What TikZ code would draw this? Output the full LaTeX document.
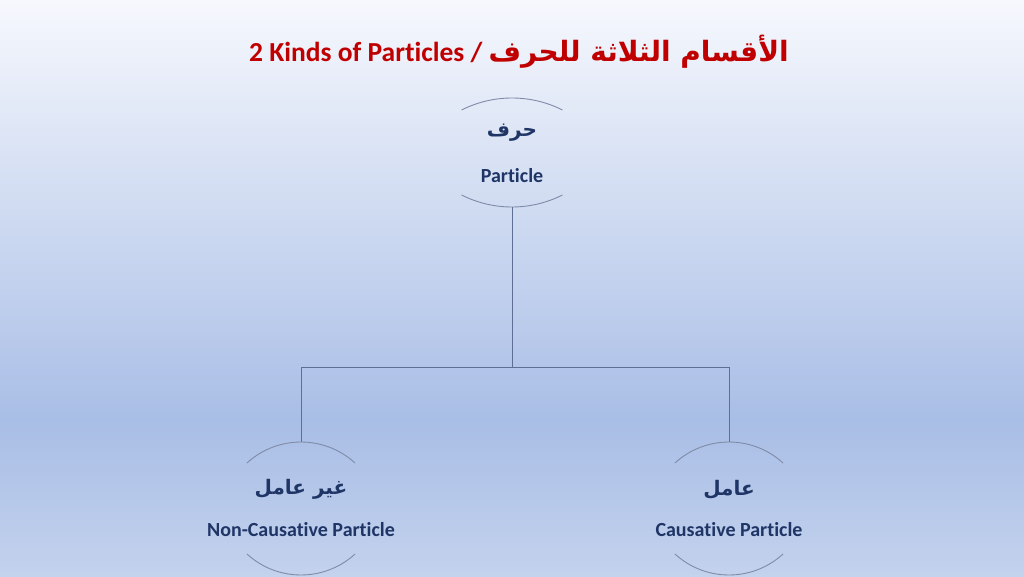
\documentclass[tikz,border=0pt]{standalone}
\usepackage{fontspec}
\setmainfont{Carlito}[Ligatures=NoCommon]
\newfontfamily\arabicfont[Script=Arabic]{DejaVu Sans}
\TeXXeTstate=1
\definecolor{bgtop}{HTML}{F6F8FD}
\definecolor{bgmid}{HTML}{A9BEE6}
\definecolor{bgbot}{HTML}{C3D2ED}
\definecolor{titlered}{HTML}{C00000}
\definecolor{navy}{HTML}{1F3566}
\definecolor{arcgray}{HTML}{7F8BA8}
\definecolor{linegray}{HTML}{5E6E94}
\tikzset{
  eng/.style={font=\bfseries\fontsize{20}{24}\selectfont, text=navy, inner sep=0pt},
  arab/.style={font=\arabicfont\bfseries\fontsize{20}{25}\selectfont, text=navy, inner sep=0pt},
  arcline/.style={draw=arcgray, line width=0.9pt},
  conn/.style={draw=linegray, line width=1pt},
}
\begin{document}
\begin{tikzpicture}[x=1pt,y=1pt]
\useasboundingbox (0,0) rectangle (1024,576);
\clip (0,0) rectangle (1024,576);
\shade[top color=bgtop, bottom color=bgmid] (0,156) rectangle (1024,576);
\shade[top color=bgmid, bottom color=bgbot] (0,0) rectangle (1024,156.5);
% title
\node[font=\bfseries\fontsize{27.5}{32}\selectfont, text=titlered, inner sep=0pt] (title) at (519,524)
  {2 Kinds of Particles / {\arabicfont\bfseries\fontsize{28}{32}\selectfont\beginR الأقسام الثلاثة للحرف\endR}};
% top node
\node[arab] (harf) at (512,443) {\beginR حرف\endR};
\node[eng] (particle) at (512,400) {Particle};
\draw[arcline] (512,366) ++(116.8:112) arc[start angle=116.8, end angle=63.2, radius=112];
\draw[arcline] (512,481) ++(243.2:112) arc[start angle=243.2, end angle=296.8, radius=112];
% left node
\node[arab] (ghayr) at (301,87) {\beginR غير عامل\endR};
\node[eng] (noncaus) at (301,46) {Non-Causative Particle};
\draw[arcline] (301,54) ++(132.5:80) arc[start angle=132.5, end angle=47.5, radius=80];
\draw[arcline] (301,81) ++(227.5:80) arc[start angle=227.5, end angle=312.5, radius=80];
% right node
\node[arab] (amil) at (729,86) {\beginR عامل\endR};
\node[eng] (caus) at (729,46) {Causative Particle};
\draw[arcline] (729,54) ++(132.5:80) arc[start angle=132.5, end angle=47.5, radius=80];
\draw[arcline] (729,81) ++(227.5:80) arc[start angle=227.5, end angle=312.5, radius=80];
% connectors
\coordinate (topbot) at (512,369);
\coordinate (junc) at (512,209);
\coordinate (lefttop) at (301,134);
\coordinate (righttop) at (729,134);
\draw[conn] (topbot) -- (junc) -| (lefttop);
\draw[conn] (junc) -| (righttop);
\end{tikzpicture}
\end{document}
